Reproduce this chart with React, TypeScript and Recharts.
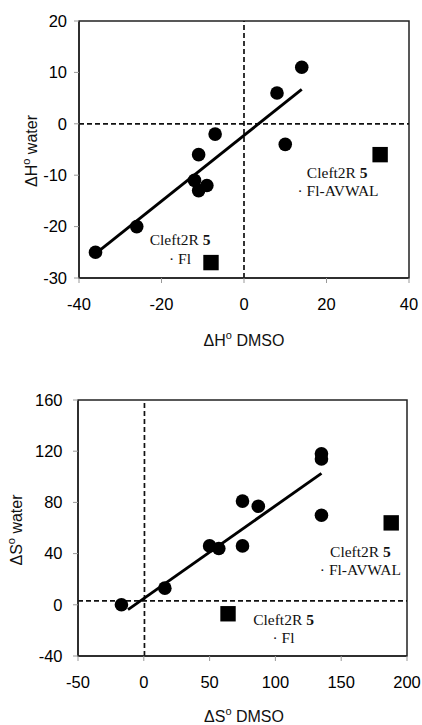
import React from "react";
import {
  ScatterChart,
  Scatter,
  XAxis,
  YAxis,
  ReferenceLine,
  ReferenceArea,
  ReferenceDot,
} from "recharts";

// ΔH° panel
const hPoints = [
  { x: -36, y: -25 },
  { x: -26, y: -20 },
  { x: -12, y: -11 },
  { x: -11, y: -13 },
  { x: -9, y: -12 },
  { x: -11, y: -6 },
  { x: -7, y: -2 },
  { x: 8, y: 6 },
  { x: 14, y: 11 },
  { x: 10, y: -4 },
];
const hSquares = [
  { x: 33, y: -6 },
  { x: -8, y: -27 },
];
const hFit = [
  { x: -35.6, y: -25 },
  { x: 14, y: 6.7 },
];
const hXTicks = [-40, -20, 0, 20, 40];
const hYTicks = [-30, -20, -10, 0, 10, 20];
const hNotes = [
  { x: 22.6, y: -9.6, name: "Cleft2R ", num: "5" },
  { x: 22.8, y: -13.1, name: "· Fl-AVWAL", num: "" },
  { x: -15.5, y: -22.7, name: "Cleft2R ", num: "5" },
  { x: -15.5, y: -26.3, name: "· Fl", num: "" },
];

// ΔS° panel
const sPoints = [
  { x: -17, y: 0 },
  { x: 16, y: 13 },
  { x: 50, y: 46 },
  { x: 57, y: 44 },
  { x: 75, y: 46 },
  { x: 75, y: 81 },
  { x: 87, y: 77 },
  { x: 135, y: 118 },
  { x: 135, y: 114 },
  { x: 135, y: 70 },
];
const sSquares = [
  { x: 188, y: 64 },
  { x: 64, y: -7 },
];
const sFit = [
  { x: -12, y: -3.8 },
  { x: 135, y: 102.7 },
];
const sXTicks = [-50, 0, 50, 100, 150, 200];
const sYTicks = [-40, 0, 40, 80, 120, 160];
const sNotes = [
  { x: 164.6, y: 41.5, name: "Cleft2R ", num: "5" },
  { x: 164.6, y: 27.2, name: "· Fl-AVWAL", num: "" },
  { x: 106.2, y: -11.9, name: "Cleft2R ", num: "5" },
  { x: 106.2, y: -25.9, name: "· Fl", num: "" },
];

const SANS = "Arial, 'Liberation Sans', sans-serif";
const SERIF = "'Times New Roman', 'Liberation Serif', serif";

const Dot = (p: any) => <circle cx={p.cx} cy={p.cy} r={6.8} fill="#000" />;
const Square = (p: any) => (
  <rect x={p.cx - 7.7} y={p.cy - 7.7} width={15.4} height={15.4} fill="#000" />
);

const noteShape = (n: { name: string; num: string }) => (p: any) => (
  <text
    x={p.cx}
    y={p.cy + 5}
    textAnchor="middle"
    fontFamily={SERIF}
    fontSize={15.5}
    fill="#111"
  >
    {n.name}
    {n.num && <tspan fontWeight="bold">{n.num}</tspan>}
  </text>
);

const AxisTitle = ({ x, y, sym, rest, rotate }: any) => (
  <text
    x={x}
    y={y}
    textAnchor="middle"
    fontFamily={SANS}
    fontSize={16}
    fill="#111"
    transform={rotate ? `rotate(-90, ${x}, ${y})` : undefined}
  >
    {"Δ" + sym}
    <tspan fontSize={11} dy={-7}>
      o
    </tspan>
    <tspan dy={7}>{" " + rest}</tspan>
  </text>
);

const tickStyle = { fill: "#000", fontSize: 16.5, fontFamily: SANS };

const Panel = ({
  height,
  top,
  right,
  yWidth,
  xHeight,
  xDomain,
  yDomain,
  xTicks,
  yTicks,
  points,
  squares,
  fit,
  notes,
  hLineY,
  vLineX,
  yTickMargin,
  sym,
  xTitleY,
  yTitleX,
  yTitleY,
}: any) => (
  <ScatterChart
    width={422}
    height={height}
    margin={{ top, right, bottom: 0, left: 0 }}
  >
    <XAxis
      type="number"
      dataKey="x"
      domain={xDomain}
      ticks={xTicks}
      interval={0}
      allowDataOverflow
      height={xHeight}
      tick={tickStyle}
      tickSize={5}
      tickMargin={15}
      tickLine={{ stroke: "#999" }}
      axisLine={{ stroke: "#222", strokeWidth: 1.5 }}
      label={{
        content: () => (
          <AxisTitle x={244} y={xTitleY} sym={sym} rest="DMSO" />
        ),
      }}
    />
    <YAxis
      type="number"
      dataKey="y"
      domain={yDomain}
      ticks={yTicks}
      interval={0}
      allowDataOverflow
      width={yWidth}
      tick={tickStyle}
      tickSize={5}
      tickMargin={yTickMargin}
      tickLine={{ stroke: "#999" }}
      axisLine={{ stroke: "#222", strokeWidth: 1.5 }}
      label={{
        content: () => (
          <AxisTitle x={yTitleX} y={yTitleY} sym={sym} rest="water" rotate />
        ),
      }}
    />
    <ReferenceArea
      x1={xDomain[0]}
      x2={xDomain[1]}
      y1={yDomain[0]}
      y2={yDomain[1]}
      fill="none"
      fillOpacity={0}
      stroke="#222"
      strokeWidth={1.5}
    />
    <ReferenceLine x={vLineX} stroke="#111" strokeWidth={1.7} strokeDasharray="5 3" />
    <ReferenceLine y={hLineY} stroke="#111" strokeWidth={1.7} strokeDasharray="5 3" />
    <ReferenceLine segment={fit} stroke="#000" strokeWidth={2.9} />
    <Scatter data={points} shape={Dot} isAnimationActive={false} />
    <Scatter data={squares} shape={Square} isAnimationActive={false} />
    {notes.map((n: any, i: number) => (
      <ReferenceDot key={i} x={n.x} y={n.y} r={0} shape={noteShape(n)} />
    ))}
  </ScatterChart>
);

export default function App() {
  return (
    <div
      style={{
        position: "absolute",
        left: 0,
        top: 0,
        width: 422,
        height: 725,
        background: "#fff",
      }}
    >
      <Panel
        height={360}
        top={21}
        right={13}
        yWidth={79}
        xHeight={82}
        xDomain={[-40, 40]}
        yDomain={[-30, 20]}
        xTicks={hXTicks}
        yTicks={hYTicks}
        points={hPoints}
        squares={hSquares}
        fit={hFit}
        notes={hNotes}
        hLineY={0}
        vLineX={0}
        yTickMargin={7}
        sym="H"
        xTitleY={346}
        yTitleX={37}
        yTitleY={151}
      />
      <Panel
        height={365}
        top={40}
        right={15}
        yWidth={78}
        xHeight={69}
        xDomain={[-50, 200]}
        yDomain={[-40, 160]}
        xTicks={sXTicks}
        yTicks={sYTicks}
        points={sPoints}
        squares={sSquares}
        fit={sFit}
        notes={sNotes}
        hLineY={3}
        vLineX={0.5}
        yTickMargin={10.5}
        sym="S"
        xTitleY={362}
        yTitleX={22}
        yTitleY={170}
      />
    </div>
  );
}
